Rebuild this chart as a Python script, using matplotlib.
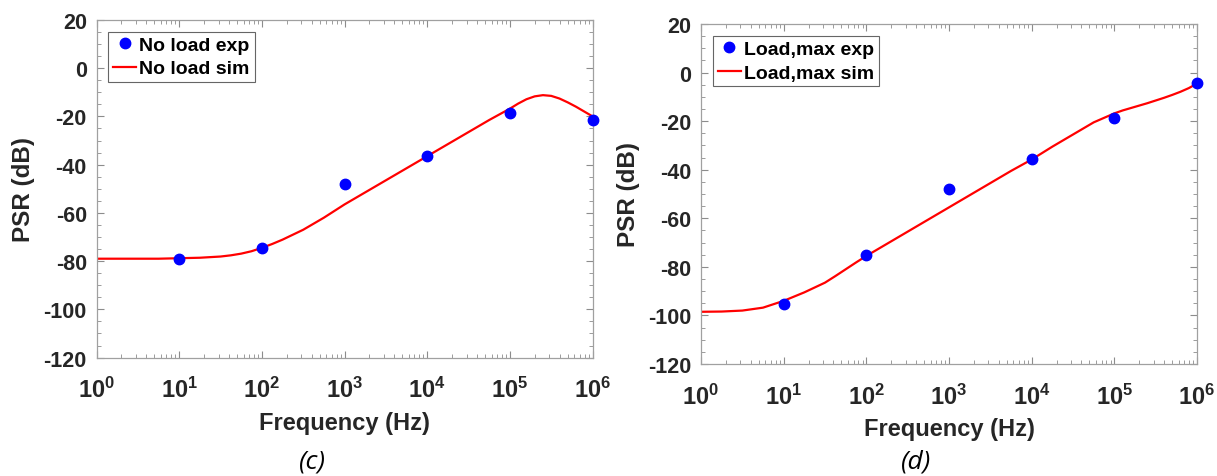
import matplotlib
matplotlib.use("Agg")
import matplotlib.pyplot as plt
import numpy as np
from matplotlib.ticker import FixedLocator, FuncFormatter, LogLocator, NullFormatter

plt.rcParams['font.family'] = ['Liberation Sans', 'DejaVu Sans']
plt.rcParams['mathtext.fontset'] = 'custom'
plt.rcParams['mathtext.rm'] = 'Liberation Sans:bold'
plt.rcParams['mathtext.bf'] = 'Liberation Sans:bold'
plt.rcParams['mathtext.it'] = 'Liberation Sans:bold'
plt.rcParams['axes.unicode_minus'] = False

# ---- data ----
exp_freq = [1e1, 1e2, 1e3, 1e4, 1e5, 1e6]
noload_exp = [-79.1, -74.6, -48.2, -36.5, -18.7, -21.6]
loadmax_exp = [-95.3, -75.3, -47.8, -35.4, -18.8, -4.1]

sim_logf = [0, 0.25, 0.5, 0.75, 1.0, 1.25, 1.5, 1.625, 1.75, 1.875, 2.0, 2.125, 2.25,
            2.5, 2.75, 3.0, 3.25, 3.5, 3.75, 4.0, 4.25, 4.5, 4.75, 5.0, 5.1, 5.2,
            5.3, 5.4, 5.5, 5.6, 5.7, 5.8, 5.9, 6.0]
noload_sim = [-79, -79, -79, -79, -78.8, -78.6, -78.1, -77.6, -76.9, -75.9, -74.5, -72.9,
              -71.1, -67.0, -62.0, -56.5, -51.5, -46.5, -41.5, -36.5, -31.5, -26.5,
              -21.5, -16.8, -14.7, -12.9, -11.7, -11.2, -11.5, -12.6, -14.2, -16.0,
              -18.0, -20.0]
loadmax_sim = [-98.5, -98.4, -98.0, -96.8, -94.0, -90.5, -86.5, -83.8, -81.0, -78.2,
               -75.5, -73.0, -70.5, -65.5, -60.5, -55.5, -50.5, -45.5, -40.5, -35.8,
               -30.5, -25.5, -20.5, -16.8, -15.6, -14.6, -13.6, -12.6, -11.5, -10.4,
               -9.2, -7.9, -6.4, -4.5]

panels = [
    dict(rect=[0.0793, 0.2482, 0.4076, 0.708], exp=noload_exp, sim=noload_sim,
         lab_exp='No load exp', lab_sim='No load sim', tag='(c)', tagx=0.257),
    dict(rect=[0.576, 0.2348, 0.4076, 0.7128], exp=loadmax_exp, sim=loadmax_sim,
         lab_exp='Load,max exp', lab_sim='Load,max sim', tag='(d)', tagx=0.753),
]

fig = plt.figure(figsize=(12.17, 4.77), dpi=100)
txtc = '#262626'
simf = [10 ** v for v in sim_logf]
for p in panels:
    ax = fig.add_axes(p['rect'])
    ax.semilogx(simf, p['sim'], color='red', lw=1.6, label=p['lab_sim'], zorder=2)
    ax.plot(exp_freq, p['exp'], 'o', color='blue', ms=7.5, label=p['lab_exp'], zorder=3,
            clip_on=False)
    ax.set_xlim(1, 1e6)
    ax.set_ylim(-120, 20)
    ax.yaxis.set_major_locator(FixedLocator(np.arange(-120, 21, 20)))
    ax.yaxis.set_minor_locator(FixedLocator([v for v in np.arange(-120, 21, 5) if v % 20 != 0]))
    ax.xaxis.set_major_locator(FixedLocator([10.0 ** k for k in range(7)]))
    ax.xaxis.set_minor_locator(LogLocator(base=10, subs=np.arange(2, 10), numticks=20))
    ax.xaxis.set_minor_formatter(NullFormatter())
    ax.xaxis.set_major_formatter(FuncFormatter(lambda v, pos: r'$10^{%d}$' % int(round(np.log10(v)))))
    ax.tick_params(which='both', direction='in', top=True, right=True, colors='#8c8c8c',
                   labelcolor=txtc, labelsize=15.5)
    ax.tick_params(which='major', length=5, width=0.8)
    ax.tick_params(which='minor', length=3, width=0.6)
    ax.tick_params(axis='y', which='major', pad=7)
    ax.tick_params(axis='x', which='major', pad=14, labelsize=17)
    for lab in ax.get_yticklabels():
        lab.set_fontweight('bold')
    for s in ax.spines.values():
        s.set_color('#a0a0a0')
        s.set_linewidth(0.9)
    ax.set_xlabel('Frequency (Hz)', fontsize=17, fontweight='bold', color=txtc, labelpad=6)
    ax.set_ylabel('PSR (dB)', fontsize=17.5, fontweight='bold', color=txtc, labelpad=6)
    h, l = ax.get_legend_handles_labels()
    leg = ax.legend([h[1], h[0]], [l[1], l[0]], loc='upper left', fancybox=False,
                    edgecolor='#666666', framealpha=1, handlelength=1.2, handletextpad=0.15,
                    borderpad=0.25, labelspacing=0.3, borderaxespad=0.6,
                    prop=dict(size=14, weight='bold'))
    leg.get_frame().set_linewidth(0.8)
    for t in leg.get_texts():
        t.set_color('black')
    fig.text(p['tagx'], 0.018, p['tag'], fontsize=19, style='italic', ha='center',
             va='baseline', color='black', family=['Open Sans', 'DejaVu Sans'])

fig.savefig('out.png', dpi=100)
